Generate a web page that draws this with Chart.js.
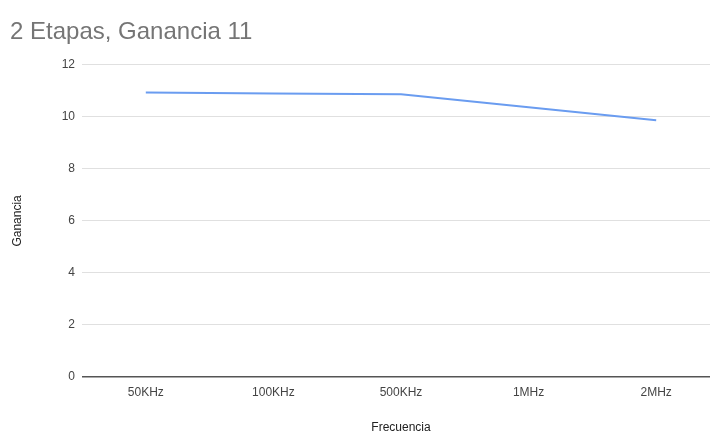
<!DOCTYPE html>
<html>
<head>
<meta charset="utf-8">
<script src="https://cdn.jsdelivr.net/npm/chart.js@4"></script>
<style>
  html, body { margin: 0; padding: 0; background: #fff; overflow: hidden; }
  #wrap { width: 720px; height: 435px; }
</style>
</head>
<body>
<div id="wrap"><canvas id="gainChart" width="720" height="435"></canvas></div>
<script>
const frequencies = ['50KHz', '100KHz', '500KHz', '1MHz', '2MHz'];
const gains = [10.94, 10.9, 10.87, 10.37, 9.87];
const yTicks = [0, 2, 4, 6, 8, 10, 12];

const ctx = document.getElementById('gainChart').getContext('2d');

new Chart(ctx, {
    type: 'line',
    data: {
        labels: frequencies,
        datasets: [{
            label: 'Ganancia',
            data: gains,
            borderColor: '#6a9cf0',
            borderWidth: 2,
            pointRadius: 0,
            tension: 0,
            fill: false
        }]
    },
    options: {
        responsive: false,
        animation: false,
        layout: { padding: { left: 10, right: 0, top: 0, bottom: 0 } },
        plugins: {
            legend: { display: false },
            tooltip: { enabled: false },
            title: {
                display: true,
                text: '2 Etapas, Ganancia 11',
                align: 'start',
                color: '#757575',
                font: { family: 'Arial, Liberation Sans', size: 24, weight: 'normal' },
                padding: { top: 18, bottom: 18 }
            }
        },
        scales: {
            x: {
                offset: true,
                grid: { display: false },
                border: { display: false },
                ticks: {
                    color: '#444',
                    font: { family: 'Arial, Liberation Sans', size: 12 },
                    padding: 0,
                    maxRotation: 0
                },
                title: {
                    display: true,
                    text: 'Frecuencia',
                    color: '#222',
                    font: { family: 'Arial, Liberation Sans', size: 12 },
                    padding: { top: 0, bottom: 0 }
                },
                afterFit: (scale) => { scale.height = 58; }
            },
            y: {
                min: 0,
                max: 12,
                afterBuildTicks: (scale) => { scale.ticks = yTicks.map(v => ({ value: v })); },
                grid: {
                    color: (c) => c.tick && c.tick.value === 0 ? '#555' : '#e0e0e0',
                    lineWidth: (c) => c.tick && c.tick.value === 0 ? 1.5 : 1,
                    drawTicks: false
                },
                border: { display: false },
                ticks: {
                    color: '#444',
                    font: { family: 'Arial, Liberation Sans', size: 12 },
                    padding: 7
                },
                title: {
                    display: true,
                    text: 'Ganancia',
                    color: '#222',
                    font: { family: 'Arial, Liberation Sans', size: 12 },
                    padding: { top: 0, bottom: 0 }
                },
                afterFit: (scale) => { scale.width = 72; }
            }
        }
    }
});
</script>
</body>
</html>
